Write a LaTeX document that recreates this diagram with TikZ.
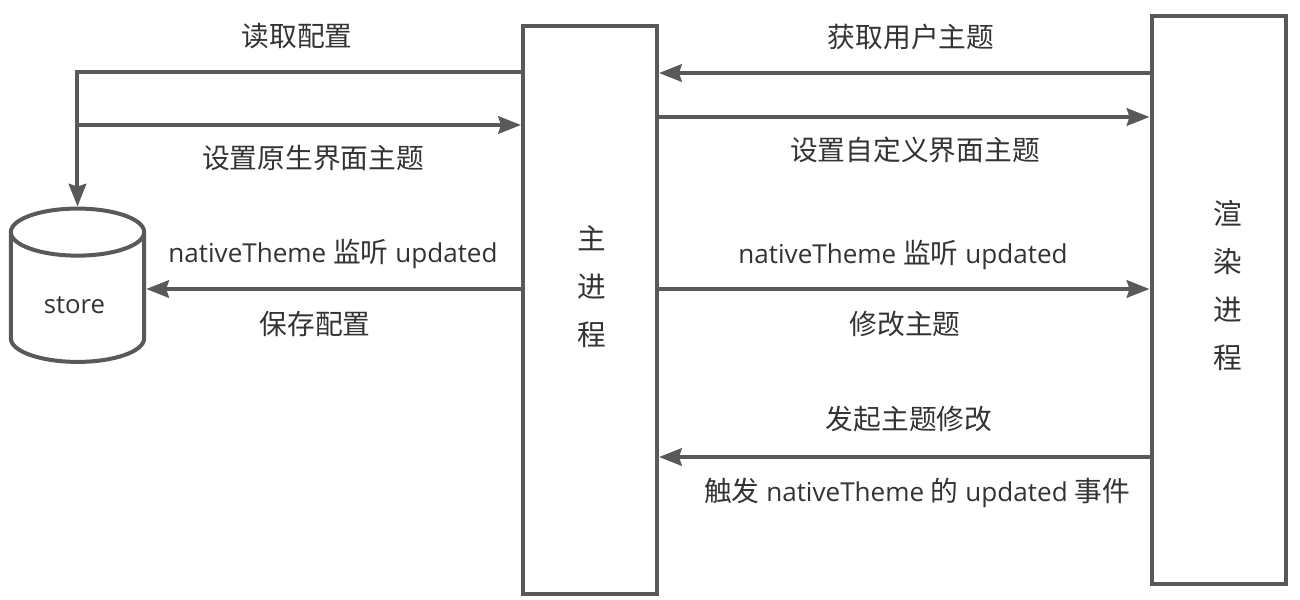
\documentclass[tikz,border=0pt]{standalone}
\usepackage{fontspec}
\setmainfont{Open Sans}[Scale=0.94]
\newfontfamily\cjk{Noto Sans CJK SC}
\usepackage{xcolor}
\definecolor{lineGray}{RGB}{89,89,89}
\definecolor{textGray}{RGB}{51,51,51}
\usetikzlibrary{arrows.meta,positioning,shapes.geometric}
\newcommand{\nudged}[2]{\hspace*{#1}#2}

\begin{document}
\begin{tikzpicture}[
  x=0.75pt,y=-0.75pt,
  every node/.style={text=textGray},
  procbox/.style={draw=lineGray,line width=3pt,minimum width=100.5pt,minimum height=425.5pt,
                  align=center,inner sep=0pt,font=\cjk\fontsize{21.5}{36}\selectfont},
  storebox/.style={draw=lineGray,line width=3pt,cylinder,shape border rotate=90,aspect=0.7,
                  minimum width=100pt,minimum height=115pt,inner sep=0pt,font=\fontsize{20.5}{24}\selectfont},
  flowline/.style={-{Stealth[length=17pt,width=13pt,inset=2pt]},line width=3pt,lineGray},
  flowlabel/.style={font=\fontsize{20.8}{25}\selectfont},
]
  \useasboundingbox (0,0) rectangle (1300,600);

  % Boxes
  \node[procbox] (mainproc) at (590,310)
    {\nudged{3pt}{主}\\\nudged{3pt}{进}\\\nudged{3pt}{程}\\~};
  \node[procbox] (renderproc) at (1218.5,300)
    {\nudged{13.5pt}{渲}\\\nudged{13.5pt}{染}\\\nudged{13.5pt}{进}\\\nudged{13.5pt}{程}\\[-12pt]~};
  \node[storebox] (store) at (77.5,298) {store\kern4.5pt\rule{0pt}{23pt}};

  % Row heights
  \coordinate (rowread) at (300,72);
  \coordinate (rownative) at (77.5,125);
  \coordinate (rowstore) at (300,289);
  \coordinate (rowget) at (900,73);
  \coordinate (rowset) at (900,117);
  \coordinate (rowupdate) at (900,289);
  \coordinate (rowmodify) at (900,457);

  % Arrows, store side
  \draw[flowline] (mainproc.west |- rowread) -| (store.north);
  \draw[flowline] (rownative) -- (mainproc.west |- rownative);
  \draw[flowline] (mainproc.west |- rowstore) -- (store.east |- rowstore);

  % Arrows, renderer side
  \draw[flowline] (renderproc.west |- rowget) -- (mainproc.east |- rowget);
  \draw[flowline] (mainproc.east |- rowset) -- (renderproc.west |- rowset);
  \draw[flowline] (mainproc.east |- rowupdate) -- (renderproc.west |- rowupdate);
  \draw[flowline] (renderproc.west |- rowmodify) -- (mainproc.east |- rowmodify);

  % Labels
  \node[flowlabel] (readlbl) at (297,36) {\cjk 读取配置};
  \node[flowlabel] (nativelbl) at (313,158) {\cjk 设置原生界面主题};
  \node[flowlabel] (listenlbl) at (333,254) {nativeTheme {\cjk 监听} updated};
  \node[flowlabel] (savelbl) at (315,324) {\cjk 保存配置};
  \node[flowlabel] (getlbl) at (911,37) {\cjk 获取用户主题};
  \node[flowlabel] (setlbl) at (915,150) {\cjk 设置自定义界面主题};
  \node[flowlabel] (listenlbltwo) at (903,255) {nativeTheme {\cjk 监听} updated};
  \node[flowlabel] (modifylbl) at (905,324) {\cjk 修改主题};
  \node[flowlabel] (startlbl) at (909,419) {\cjk 发起主题修改};
  \node[flowlabel] (firelbl) at (917,493) {{\cjk 触发} nativeTheme {\cjk 的} updated {\cjk 事件}};
\end{tikzpicture}
\end{document}
